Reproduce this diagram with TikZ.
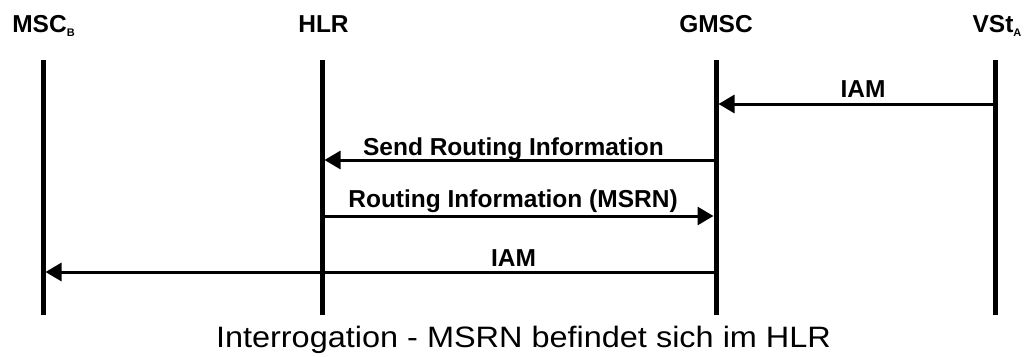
\documentclass[tikz,border=0pt]{standalone}
\usepackage{fontspec}
\setmainfont{Liberation Sans}
\usetikzlibrary{arrows.meta}
\newcommand{\lowsub}[1]{\raisebox{-4pt}{\fontsize{11}{13}\selectfont #1}}
\begin{document}
\begin{tikzpicture}[x=1pt,y=-1pt,
  lifeline/.style={line width=5pt},
  msg/.style={line width=3pt,-{Triangle[length=16pt,width=18pt]}, shorten >=2.5pt},
  head/.style={font=\bfseries\fontsize{24.5}{28}\selectfont, inner sep=0pt, anchor=base},
  lbl/.style={font=\bfseries\fontsize{24.5}{28}\selectfont, inner sep=0pt, anchor=base},
  captiontext/.style={font=\fontsize{29.5}{34}\selectfont, inner sep=0pt, anchor=base, xscale=1.1}]
\useasboundingbox (0,0) rectangle (1027,356);
% headers
\node[head] (hB) at (43.5,32) {MSC\lowsub{B}};
\node[head] (hH) at (323.5,32) {HLR};
\node[head] (hG) at (716,32) {GMSC};
\node[head] (hV) at (997,32) {VSt\lowsub{A}};
% lifelines
\coordinate (Bt) at (43,60); \coordinate (Bb) at (43,315);
\coordinate (Ht) at (322,60); \coordinate (Hb) at (322,315);
\coordinate (Gt) at (716,60); \coordinate (Gb) at (716,315);
\coordinate (Vt) at (995,60); \coordinate (Vb) at (995,315);
\draw[lifeline] (Bt) -- (Bb);
\draw[lifeline] (Ht) -- (Hb);
\draw[lifeline] (Gt) -- (Gb);
\draw[lifeline] (Vt) -- (Vb);
% message endpoints
\coordinate (m1s) at (995,104); \coordinate (m1e) at (716,104);
\coordinate (m2s) at (716,160); \coordinate (m2e) at (322,160);
\coordinate (m3s) at (322,216); \coordinate (m3e) at (716,216);
\coordinate (m4s) at (716,272); \coordinate (m4e) at (43,272);
\draw[msg] (m1s) -- (m1e);
\draw[msg] (m2s) -- (m2e);
\draw[msg] (m3s) -- (m3e);
\draw[msg] (m4s) -- (m4e);
% labels
\node[lbl] (l1) at (863,97) {IAM};
\node[lbl] (l2) at (513.5,155) {Send Routing Information};
\node[lbl] (l3) at (513,207) {Routing Information (MSRN)};
\node[lbl] (l4) at (513.5,266) {IAM};
\node[captiontext] (c) at (523.5,347) {Interrogation - MSRN befindet sich im HLR};
\end{tikzpicture}
\end{document}
